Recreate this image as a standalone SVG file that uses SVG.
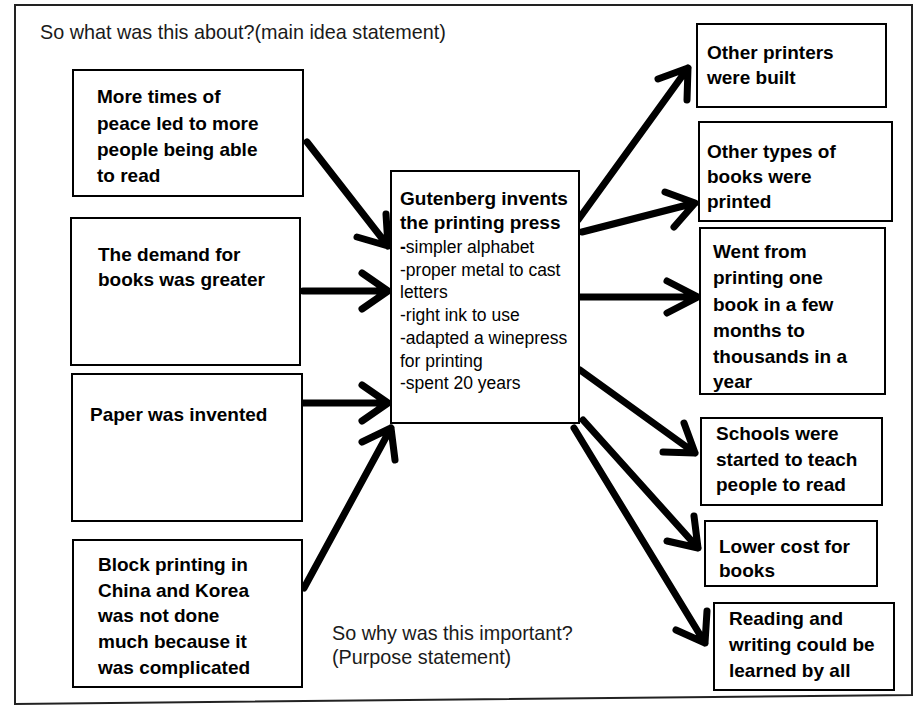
<svg xmlns="http://www.w3.org/2000/svg" width="915" height="706" viewBox="0 0 915 706">
<style>
.box{fill:#fff;stroke:#000;stroke-width:2}
.b{font-family:"Liberation Sans",Arial,sans-serif;font-weight:bold;font-size:19px;fill:#000}
.r{font-family:"Liberation Sans",Arial,sans-serif;font-size:17.5px;fill:#000}
.lab{font-family:"Liberation Sans",Arial,sans-serif;font-size:19.8px;fill:#1a1a1a}
.arr{fill:none;stroke:#000;stroke-width:7;stroke-linecap:round;stroke-linejoin:round}
</style>
<rect width="915" height="706" fill="#fff"/>
<path d="M15,5 H912 V695 L15,704 Z" fill="none" stroke="#222" stroke-width="2"/>
<text class="lab" x="40" y="39">So what was this about?(main idea statement)</text>
<text class="lab" x="332" y="640">So why was this important?</text>
<text class="lab" x="332" y="664">(Purpose statement)</text>

<g id="connectors">
<path class="arr" d="M307,142 L388,246 M386,214 L388,246 L357,237"/>
<path class="arr" d="M303,291 L388,291 M362,273 L388,291 L362,309"/>
<path class="arr" d="M303,403 L388,403 M362,385 L388,403 L362,421"/>
<path class="arr" d="M304,588 L391,428 M362,442 L391,428 L395,460"/>
<path class="arr" d="M578,220 L688,68 M658,79 L688,68 L687,100"/>
<path class="arr" d="M582,232 L695,203 M665,192 L695,203 L674,227"/>
<path class="arr" d="M580,297 L698,297 M667,281 L698,297 L667,313"/>
<path class="arr" d="M580,370 L695,453 M684,423 L695,453 L663,452"/>
<path class="arr" d="M583,420 L698,548 M694,516 L698,548 L667,541"/>
<path class="arr" d="M574,428 L705,643 M707,611 L705,643 L676,630"/>
</g>

<g id="peace">
<rect class="box" x="73" y="70" width="230" height="126"/>
<text class="b" x="97" y="103">More times of</text>
<text class="b" x="97" y="129.5">peace led to more</text>
<text class="b" x="97" y="156">people being able</text>
<text class="b" x="97" y="182">to read</text>
</g>
<g id="demand">
<rect class="box" x="71" y="218" width="229" height="147"/>
<text class="b" x="98" y="261">The demand for</text>
<text class="b" x="98" y="286">books was greater</text>
</g>
<g id="paper">
<rect class="box" x="72" y="374" width="230" height="147"/>
<text class="b" x="90" y="421">Paper was invented</text>
</g>
<g id="block">
<rect class="box" x="73" y="540" width="229" height="147"/>
<text class="b" x="98" y="571">Block printing in</text>
<text class="b" x="98" y="597">China and Korea</text>
<text class="b" x="98" y="622">was not done</text>
<text class="b" x="98" y="648">much because it</text>
<text class="b" x="98" y="674">was complicated</text>
</g>
<g id="gutenberg">
<rect class="box" x="391" y="171" width="188" height="252"/>
<text class="b" x="400" y="205">Gutenberg invents</text>
<text class="b" x="400" y="229">the printing press</text>
<text class="r" x="400" y="253"><tspan font-weight="bold">-</tspan>simpler alphabet</text>
<text class="r" x="400" y="276">-proper metal to cast</text>
<text class="r" x="400" y="298">letters</text>
<text class="r" x="400" y="321">-right ink to use</text>
<text class="r" x="400" y="344">-adapted a winepress</text>
<text class="r" x="400" y="367">for printing</text>
<text class="r" x="400" y="389">-spent 20 years</text>
</g>
<g id="printers">
<rect class="box" x="697" y="24" width="189" height="83"/>
<text class="b" x="707" y="59">Other printers</text>
<text class="b" x="707" y="84">were built</text>
</g>
<g id="types">
<rect class="box" x="699" y="122" width="193" height="99"/>
<text class="b" x="707" y="158">Other types of</text>
<text class="b" x="707" y="183">books were</text>
<text class="b" x="707" y="208">printed</text>
</g>
<g id="thousands">
<rect class="box" x="700" y="228" width="185" height="166"/>
<text class="b" x="713" y="258">Went from</text>
<text class="b" x="713" y="284">printing one</text>
<text class="b" x="713" y="311">book in a few</text>
<text class="b" x="713" y="337">months to</text>
<text class="b" x="713" y="363">thousands in a</text>
<text class="b" x="713" y="388">year</text>
</g>
<g id="schools">
<rect class="box" x="701" y="418" width="181" height="87"/>
<text class="b" x="716" y="440">Schools were</text>
<text class="b" x="716" y="466">started to teach</text>
<text class="b" x="716" y="491">people to read</text>
</g>
<g id="cost">
<rect class="box" x="705" y="521" width="172" height="65"/>
<text class="b" x="719" y="553">Lower cost for</text>
<text class="b" x="719" y="577">books</text>
</g>
<g id="reading">
<rect class="box" x="714" y="603" width="180" height="87"/>
<text class="b" x="729" y="625">Reading and</text>
<text class="b" x="729" y="651">writing could be</text>
<text class="b" x="729" y="677">learned by all</text>
</g>
</svg>
